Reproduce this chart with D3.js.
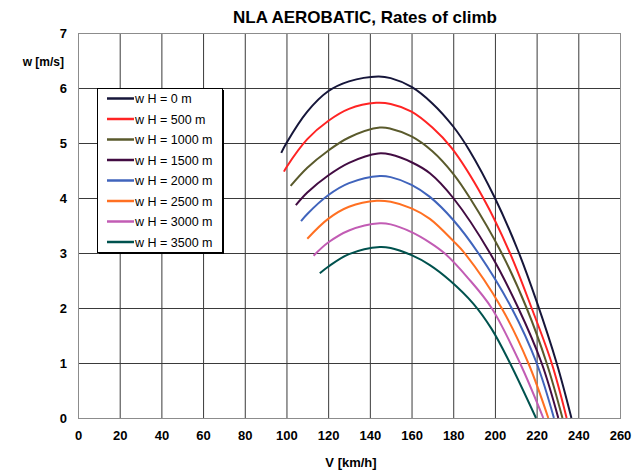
<!DOCTYPE html>
<html>
<head>
<meta charset="utf-8">
<script src="https://cdn.jsdelivr.net/npm/d3@7"></script>
<style>
  html, body { margin: 0; padding: 0; background: #fff; }
  svg { display: block; font-family: "Liberation Sans", Arial, sans-serif; }
</style>
</head>
<body>
<svg id="chart" width="640" height="472"></svg>
<script>
// Rate of climb w [m/s] against airspeed V [km/h], one series per altitude
const altitudes = [0, 500, 1000, 1500, 2000, 2500, 3000, 3500];
const climbH0 = [[97.5,4.82],[100,5.0],[110,5.57],[120,5.94],[130,6.12],[144,6.21],[150,6.18],[160,6.02],[170,5.72],[180,5.3],[187.7,4.87],[200,4.0],[211,3.05],[220,2.12],[229.6,1.0],[236.7,0]];
const climbH500 = [[98.8,4.48],[100,4.56],[110,5.07],[120,5.4],[130,5.62],[143,5.73],[150,5.71],[160,5.57],[170,5.28],[179.2,4.91],[194.4,4.0],[207.2,3.0],[217.6,2.0],[227.2,1.0],[234.4,0]];
const climbH1000 = [[102,4.22],[110,4.55],[120,4.86],[130,5.1],[144.8,5.28],[150,5.26],[160,5.12],[170,4.85],[180,4.44],[188,4.0],[203.2,3.0],[215.2,2.0],[224.8,1.0],[232.4,0]];
const climbH1500 = [[104.5,3.87],[110,4.1],[120,4.41],[130,4.64],[144,4.81],[150,4.79],[160,4.65],[168.8,4.45],[180,4.0],[197.6,3.0],[211.2,2.0],[222.4,1.0],[230.4,0]];
const climbH2000 = [[107,3.58],[110,3.71],[120,4.05],[130,4.27],[144.8,4.4],[150,4.38],[160,4.24],[168.8,4.02],[180,3.6],[192,3.0],[208,2.0],[220,1.0],[228.3,0]];
const climbH2500 = [[110,3.26],[120,3.62],[130,3.84],[143.3,3.95],[150,3.93],[160,3.81],[168.8,3.62],[180,3.22],[185.4,3.0],[203.2,2.0],[216,1.0],[225.6,0]];
const climbH3000 = [[113,2.95],[120,3.19],[130,3.41],[144.8,3.54],[150,3.52],[160,3.38],[168.8,3.19],[176,2.99],[187.2,2.54],[198.4,2.0],[212,1.0],[223.2,0]];
const climbH3500 = [[116,2.63],[120,2.75],[130,2.98],[144.8,3.11],[150,3.09],[160,2.96],[168.8,2.78],[178.4,2.5],[189.6,2.08],[198.4,1.62],[207.2,1.0],[219.7,0]];
const seriesValues = [climbH0, climbH500, climbH1000, climbH1500, climbH2000, climbH2500, climbH3000, climbH3500];
const seriesColors = ["#16163a", "#ff2424", "#5a5a2c", "#420c42", "#4064bc", "#ff7022", "#c25cb4", "#00524e"];
const xTicks = d3.range(0, 261, 20);
const yTicks = d3.range(0, 8, 1);

const svg = d3.select("#chart");
const margin = { left: 78, right: 20, top: 33, bottom: 54 };
const W = 640, H = 472;

const x = d3.scaleLinear().domain([0, 260]).range([margin.left, W - margin.right]);
const y = d3.scaleLinear().domain([0, 7]).range([H - margin.bottom, margin.top]);

// title
svg.append("text")
  .attr("x", 365).attr("y", 23)
  .attr("text-anchor", "middle")
  .attr("font-size", 17).attr("font-weight", "bold")
  .text("NLA AEROBATIC, Rates of climb");

// grid
const grid = svg.append("g");
grid.selectAll(".vx").data(xTicks).join("line")
  .attr("x1", d => x(d) + 0.5).attr("x2", d => x(d) + 0.5)
  .attr("y1", y(0)).attr("y2", y(7))
  .attr("stroke", "#3a3a3a").attr("stroke-width", 1);
grid.selectAll(".hy").data(yTicks).join("line")
  .attr("x1", x(0)).attr("x2", x(260))
  .attr("y1", d => y(d) + 0.5).attr("y2", d => y(d) + 0.5)
  .attr("stroke", "#3a3a3a").attr("stroke-width", 1);

// plot frame
svg.append("rect")
  .attr("x", x(0) + 0.5).attr("y", y(7) + 0.5)
  .attr("width", x(260) - x(0)).attr("height", y(0) - y(7))
  .attr("fill", "none").attr("stroke", "#8c8c8c");

// axes (labels only; the grid draws the lines)
const xAxis = svg.append("g")
  .attr("transform", `translate(0,${y(0) + 13})`)
  .call(d3.axisBottom(x).tickValues(xTicks).tickFormat(d3.format("d")).tickSize(0).tickPadding(0));
xAxis.select(".domain").remove();
xAxis.selectAll("text")
  .attr("font-size", 13).attr("font-weight", "bold")
  .attr("font-family", "Liberation Sans, Arial, sans-serif").attr("fill", "#000");

const yAxis = svg.append("g")
  .attr("transform", `translate(${x(0) - 11},0)`)
  .call(d3.axisLeft(y).tickValues(yTicks).tickFormat(d3.format("d")).tickSize(0).tickPadding(0));
yAxis.select(".domain").remove();
yAxis.selectAll("text")
  .attr("font-size", 13).attr("font-weight", "bold")
  .attr("font-family", "Liberation Sans, Arial, sans-serif").attr("fill", "#000");

// axis titles
svg.append("text")
  .attr("x", 351).attr("y", 467)
  .attr("text-anchor", "middle")
  .attr("font-size", 13).attr("font-weight", "bold")
  .text("V [km/h]");
svg.append("text")
  .attr("x", 64).attr("y", 66)
  .attr("text-anchor", "end")
  .attr("font-size", 12).attr("font-weight", "bold")
  .text("w [m/s]");

// curves
const line = d3.line()
  .x(d => x(d[0])).y(d => y(d[1]))
  .curve(d3.curveCatmullRom.alpha(0.5));

svg.append("g").selectAll("path").data(seriesValues).join("path")
  .attr("d", line)
  .attr("fill", "none")
  .attr("stroke", (d, i) => seriesColors[i])
  .attr("stroke-width", 2)
  .attr("stroke-linejoin", "round");

// legend
const lg = svg.append("g").attr("transform", "translate(97,88)");
const lw = 125, lh = 164;
lg.append("rect").attr("x", 2).attr("y", 2).attr("width", lw).attr("height", lh).attr("fill", "#000");
lg.append("rect").attr("x", 0.5).attr("y", 0.5).attr("width", lw).attr("height", lh)
  .attr("fill", "#fff").attr("stroke", "#000");
const items = lg.selectAll(".it").data(altitudes).join("g")
  .attr("transform", (d, i) => `translate(0,${10.5 + i * 20.5})`);
items.append("line")
  .attr("x1", 10).attr("x2", 37).attr("y1", 0).attr("y2", 0)
  .attr("stroke", (d, i) => seriesColors[i]).attr("stroke-width", 2.5);
items.append("text")
  .attr("x", 38).attr("y", 4.5)
  .attr("font-size", 12.5)
  .text(d => `w H = ${d} m`);
</script>
</body>
</html>
